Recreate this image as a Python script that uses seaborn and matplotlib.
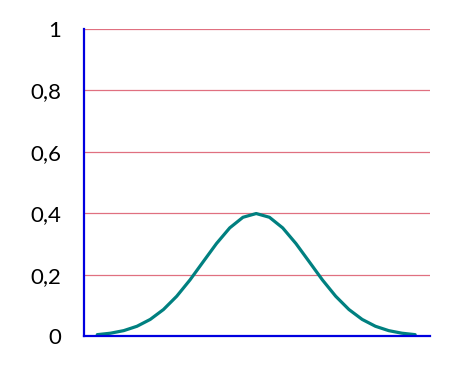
import numpy as np
import pandas as pd
import matplotlib
matplotlib.use("Agg")
import matplotlib.pyplot as plt
import seaborn as sns

x_values = [-3.0, -2.75, -2.5, -2.25, -2.0, -1.75, -1.5, -1.25, -1.0, -0.75, -0.5, -0.25,
            0.0, 0.25, 0.5, 0.75, 1.0, 1.25, 1.5, 1.75, 2.0, 2.25, 2.5, 2.75, 3.0]
y_values = [0.0044, 0.0091, 0.0175, 0.0317, 0.054, 0.0863, 0.1295, 0.1826, 0.242, 0.3011, 0.3521, 0.3867,
            0.3989, 0.3867, 0.3521, 0.3011, 0.242, 0.1826, 0.1295, 0.0863, 0.054, 0.0317, 0.0175, 0.0091, 0.0044]
y_ticks = [0, 0.2, 0.4, 0.6, 0.8, 1]
y_tick_labels = ["0", "0,2", "0,4", "0,6", "0,8", "1"]

sns.set_style("white")
plt.rcParams['font.family'] = ['Lato', 'DejaVu Sans']

df = pd.DataFrame({"x": x_values, "y": y_values})

fig = plt.figure(figsize=(4.61, 3.65), dpi=100)
ax = fig.add_axes([84/461, 29/365, (430-84)/461, (336-29)/365])

for t in y_ticks[1:]:
    ax.axhline(t, color="#E07080", linewidth=0.9, zorder=1)

sns.lineplot(data=df, x="x", y="y", ax=ax, color="#008080", linewidth=2.3, zorder=3)

ax.set_xlim(-3.25, 3.28)
ax.set_ylim(0, 1)
ax.set_yticks(y_ticks)
ax.set_yticklabels(y_tick_labels, fontsize=16, color="black")
ax.tick_params(axis="y", length=0, pad=16.5)
ax.set_xticks([])
ax.set_xlabel("")
ax.set_ylabel("")
for s in ["top", "right"]:
    ax.spines[s].set_visible(False)
for s in ["left", "bottom"]:
    ax.spines[s].set_color("#0000E0")
    ax.spines[s].set_linewidth(1.6)
    ax.spines[s].set_zorder(4)

fig.savefig("out.png", dpi=100)
